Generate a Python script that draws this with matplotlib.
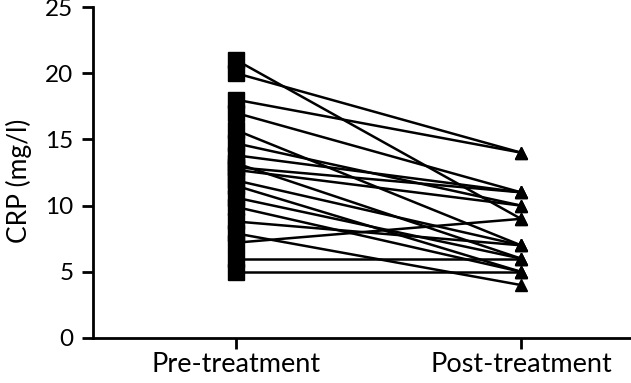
import matplotlib.pyplot as plt
from matplotlib.transforms import ScaledTranslation

# paired CRP values (mg/l), one entry per patient
pre_values = [21, 20, 18, 17, 15.7, 14.7, 13.8, 13.2, 12.9, 12.7, 11.9, 11.5,
              10.6, 9.9, 8.8, 7.9, 7.2, 6, 5]
post_values = [9, 14, 14, 11, 7, 10, 11, 6, 11, 10, 7, 5,
               6, 5, 7, 4, 9, 6, 5]
group_labels = ['Pre-treatment', 'Post-treatment']
y_ticks = [0, 5, 10, 15, 20, 25]

fig = plt.figure(figsize=(6.31, 3.83), dpi=100)
ax = fig.add_axes([0.1474, 0.1175, 0.8526, 0.8642])

for pre, post in zip(pre_values, post_values):
    ax.plot([0, 1], [pre, post], color='black', linewidth=1.8, zorder=2)

ax.plot([0] * len(pre_values), pre_values, linestyle='none', marker='s',
        markersize=11, color='black', zorder=3)
ax.plot([1] * len(post_values), post_values, linestyle='none', marker='^',
        markersize=8, color='black', zorder=3)

ax.set_xlim(-0.502, 1.386)
ax.set_ylim(0, 25)
ax.set_xticks([0, 1])
ax.set_xticklabels(group_labels, fontsize=19.5, fontfamily='Lato')
# labels sit a little to the right of their ticks in the original
shift = ScaledTranslation(10 / 100, 0, fig.dpi_scale_trans)
for lab in ax.get_xticklabels():
    lab.set_transform(lab.get_transform() + shift)
ax.set_yticks(y_ticks)
ax.set_yticklabels([str(t) for t in y_ticks], fontsize=17.5, fontfamily='Lato')
ax.set_ylabel('CRP (mg/l)', fontsize=19, fontfamily='Lato')
ax.yaxis.set_label_coords(-0.113, 0.474)

for side in ['top', 'right']:
    ax.spines[side].set_visible(False)
for side in ['left', 'bottom']:
    ax.spines[side].set_linewidth(2)
ax.tick_params(axis='both', direction='out', length=8, width=2)
ax.tick_params(axis='x', pad=2)
ax.tick_params(axis='y', pad=6)

fig.savefig('out.png', dpi=100)
